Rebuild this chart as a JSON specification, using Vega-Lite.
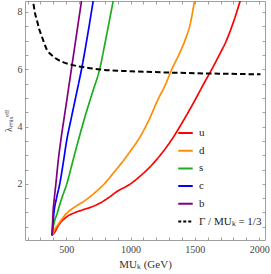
{
  "$schema": "https://vega.github.io/schema/vega-lite/v6.json",
  "width": 240,
  "height": 239,
  "autosize": {"type": "none"},
  "padding": {"left": 25, "top": 1, "right": 6, "bottom": 34},
  "background": "white",
  "config": {
    "view": {"stroke": null},
    "axis": {
      "grid": false,
      "labelFont": "Liberation Serif",
      "titleFont": "Liberation Serif",
      "labelFontSize": 10,
      "titleFontSize": 11,
      "titleFontWeight": "normal",
      "labelColor": "#444444",
      "titleColor": "#333333",
      "domainColor": "#a0a0a0",
      "tickColor": "#a0a0a0",
      "labelFlush": false,
      "labelOverlap": false
    }
  },
  "data": {
    "values": [
      {"s": "u", "m": 390, "l": 0.2}, {"s": "u", "m": 409, "l": 0.3}, {"s": "u", "m": 440, "l": 0.55}, {"s": "u", "m": 505, "l": 0.85}, {"s": "u", "m": 570, "l": 1.0}, {"s": "u", "m": 634, "l": 1.1}, {"s": "u", "m": 700, "l": 1.2}, {"s": "u", "m": 764, "l": 1.33}, {"s": "u", "m": 830, "l": 1.52}, {"s": "u", "m": 894, "l": 1.73}, {"s": "u", "m": 997, "l": 1.99}, {"s": "u", "m": 1062, "l": 2.22}, {"s": "u", "m": 1153, "l": 2.6}, {"s": "u", "m": 1240, "l": 3.05}, {"s": "u", "m": 1321, "l": 3.55}, {"s": "u", "m": 1410, "l": 4.2}, {"s": "u", "m": 1502, "l": 4.93}, {"s": "u", "m": 1570, "l": 5.5}, {"s": "u", "m": 1632, "l": 6.0}, {"s": "u", "m": 1690, "l": 6.5}, {"s": "u", "m": 1748, "l": 7.03}, {"s": "u", "m": 1800, "l": 7.65}, {"s": "u", "m": 1852, "l": 8.38},
      {"s": "d", "m": 390, "l": 0.2}, {"s": "d", "m": 410, "l": 0.4}, {"s": "d", "m": 440, "l": 0.6}, {"s": "d", "m": 505, "l": 0.98}, {"s": "d", "m": 570, "l": 1.2}, {"s": "d", "m": 634, "l": 1.38}, {"s": "d", "m": 720, "l": 1.68}, {"s": "d", "m": 790, "l": 1.97}, {"s": "d", "m": 880, "l": 2.45}, {"s": "d", "m": 960, "l": 2.9}, {"s": "d", "m": 1000, "l": 3.15}, {"s": "d", "m": 1062, "l": 3.55}, {"s": "d", "m": 1140, "l": 4.2}, {"s": "d", "m": 1212, "l": 4.93}, {"s": "d", "m": 1270, "l": 5.45}, {"s": "d", "m": 1321, "l": 6.0}, {"s": "d", "m": 1375, "l": 6.5}, {"s": "d", "m": 1425, "l": 7.03}, {"s": "d", "m": 1465, "l": 7.6}, {"s": "d", "m": 1497, "l": 8.38},
      {"s": "s", "m": 390, "l": 0.2}, {"s": "s", "m": 400, "l": 0.5}, {"s": "s", "m": 432, "l": 1.0}, {"s": "s", "m": 466, "l": 1.5}, {"s": "s", "m": 505, "l": 2.0}, {"s": "s", "m": 552, "l": 2.8}, {"s": "s", "m": 596, "l": 3.54}, {"s": "s", "m": 650, "l": 4.4}, {"s": "s", "m": 705, "l": 5.2}, {"s": "s", "m": 759, "l": 5.98}, {"s": "s", "m": 810, "l": 7.1}, {"s": "s", "m": 865, "l": 8.38},
      {"s": "c", "m": 390, "l": 0.2}, {"s": "c", "m": 395, "l": 0.5}, {"s": "c", "m": 405, "l": 1.0}, {"s": "c", "m": 425, "l": 1.5}, {"s": "c", "m": 450, "l": 2.0}, {"s": "c", "m": 476, "l": 2.7}, {"s": "c", "m": 505, "l": 3.54}, {"s": "c", "m": 540, "l": 4.3}, {"s": "c", "m": 580, "l": 5.15}, {"s": "c", "m": 622, "l": 6.06}, {"s": "c", "m": 665, "l": 7.15}, {"s": "c", "m": 710, "l": 8.38},
      {"s": "b", "m": 390, "l": 0.2}, {"s": "b", "m": 393, "l": 0.5}, {"s": "b", "m": 398, "l": 1.0}, {"s": "b", "m": 408, "l": 1.5}, {"s": "b", "m": 420, "l": 2.0}, {"s": "b", "m": 438, "l": 2.8}, {"s": "b", "m": 459, "l": 3.54}, {"s": "b", "m": 491, "l": 4.5}, {"s": "b", "m": 524, "l": 5.5}, {"s": "b", "m": 557, "l": 6.5}, {"s": "b", "m": 590, "l": 7.5}, {"s": "b", "m": 619, "l": 8.38},
      {"s": "Γ / MUₖ = 1/3", "m": 246, "l": 8.28}, {"s": "Γ / MUₖ = 1/3", "m": 258, "l": 7.95}, {"s": "Γ / MUₖ = 1/3", "m": 272, "l": 7.72}, {"s": "Γ / MUₖ = 1/3", "m": 290, "l": 7.4}, {"s": "Γ / MUₖ = 1/3", "m": 311, "l": 7.14}, {"s": "Γ / MUₖ = 1/3", "m": 330, "l": 6.9}, {"s": "Γ / MUₖ = 1/3", "m": 350, "l": 6.68}, {"s": "Γ / MUₖ = 1/3", "m": 385, "l": 6.5}, {"s": "Γ / MUₖ = 1/3", "m": 428, "l": 6.35}, {"s": "Γ / MUₖ = 1/3", "m": 480, "l": 6.24}, {"s": "Γ / MUₖ = 1/3", "m": 544, "l": 6.15}, {"s": "Γ / MUₖ = 1/3", "m": 650, "l": 6.06}, {"s": "Γ / MUₖ = 1/3", "m": 764, "l": 5.99}, {"s": "Γ / MUₖ = 1/3", "m": 1000, "l": 5.93}, {"s": "Γ / MUₖ = 1/3", "m": 1250, "l": 5.89}, {"s": "Γ / MUₖ = 1/3", "m": 1500, "l": 5.86}, {"s": "Γ / MUₖ = 1/3", "m": 1750, "l": 5.84}, {"s": "Γ / MUₖ = 1/3", "m": 2010, "l": 5.82}
    ]
  },
  "layer": [
    {
      "transform": [{"filter": "length(datum.s) == 1"}],
      "mark": {"type": "line", "strokeWidth": 1.7, "clip": true, "interpolate": "monotone"},
      "encoding": {
        "x": {
          "field": "m", "type": "quantitative",
          "scale": {"domain": [180, 2045], "nice": false, "zero": false},
          "axis": {
            "orient": "bottom",
            "values": [200, 300, 400, 500, 600, 700, 800, 900, 1000, 1100, 1200, 1300, 1400, 1500, 1600, 1700, 1800, 1900, 2000],
            "format": "d",
            "labelExpr": "datum.value % 500 === 0 ? datum.label : ''",
            "tickSize": -3,
            "labelPadding": 7,
            "title": "MUₖ (GeV)",
            "titlePadding": 4
          }
        },
        "y": {
          "field": "l", "type": "quantitative",
          "scale": {"domain": [0.04, 8.38], "nice": false, "zero": false},
          "axis": {
            "orient": "left",
            "values": [0.5, 1, 1.5, 2, 2.5, 3, 3.5, 4, 4.5, 5, 5.5, 6, 6.5, 7, 7.5, 8],
            "labelExpr": "datum.value % 2 === 0 ? '' + datum.value : ''",
            "tickSize": -3,
            "labelPadding": 6,
            "title": "λₘᵢₓᵉᶠᶠ",
            "titleFontSize": 10,
            "titleX": -12
          }
        },
        "color": {
          "field": "s", "type": "nominal",
          "scale": {"domain": ["u", "d", "s", "c", "b", "Γ / MUₖ = 1/3"], "range": ["#ff0000", "#ff8c00", "#1cae1c", "#0000ff", "#800080", "#000000"]},
          "legend": {
            "orient": "none", "legendX": 152, "legendY": 123.5,
            "title": null, "padding": 0,
            "symbolType": "stroke", "symbolSize": 210, "symbolStrokeWidth": 2,
            "labelFont": "Liberation Serif", "labelFontSize": 11, "labelColor": "#222222",
            "labelOffset": 5, "rowPadding": 3.7
          }
        },
        "strokeDash": {
          "field": "s", "type": "nominal",
          "scale": {"domain": ["u", "d", "s", "c", "b", "Γ / MUₖ = 1/3"], "range": [[1, 0], [1, 0], [1, 0], [1, 0], [1, 0], [3, 2]]},
          "legend": {
            "orient": "none", "legendX": 152, "legendY": 123.5,
            "title": null, "padding": 0,
            "symbolType": "stroke", "symbolSize": 210, "symbolStrokeWidth": 2,
            "labelFont": "Liberation Serif", "labelFontSize": 11, "labelColor": "#222222",
            "labelOffset": 5, "rowPadding": 3.7
          }
        }
      }
    },
    {
      "transform": [{"filter": "length(datum.s) > 1"}],
      "mark": {"type": "line", "strokeWidth": 2, "strokeDash": [5.5, 3], "clip": true, "interpolate": "monotone"},
      "encoding": {
        "x": {
          "field": "m", "type": "quantitative",
          "axis": {
            "orient": "top",
            "values": [200, 300, 400, 500, 600, 700, 800, 900, 1000, 1100, 1200, 1300, 1400, 1500, 1600, 1700, 1800, 1900, 2000],
            "labels": false, "tickSize": -3, "title": null
          }
        },
        "y": {
          "field": "l", "type": "quantitative",
          "axis": {
            "orient": "right",
            "values": [0.5, 1, 1.5, 2, 2.5, 3, 3.5, 4, 4.5, 5, 5.5, 6, 6.5, 7, 7.5, 8],
            "labels": false, "tickSize": -3, "title": null
          }
        },
        "color": {"field": "s", "type": "nominal"}
      }
    }
  ],
  "resolve": {"axis": {"x": "independent", "y": "independent"}}
}
